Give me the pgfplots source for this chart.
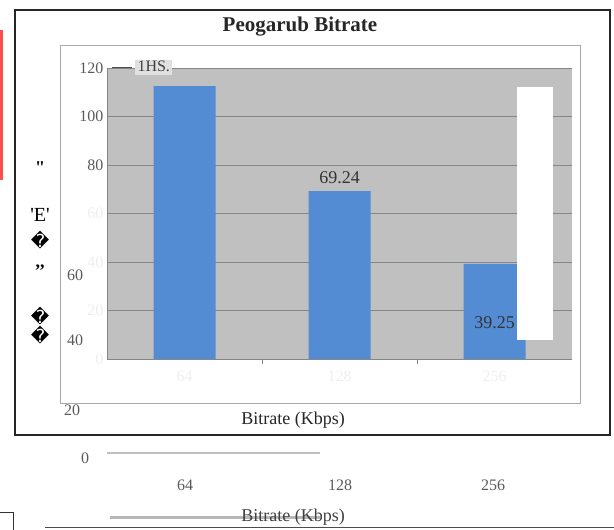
\documentclass[border=0pt]{standalone}
\usepackage{pgfplots}
\pgfplotsset{compat=1.18}
\usepackage{fontspec}
\setmainfont{Liberation Serif}
\newfontfamily\dv{DejaVu Sans}
\definecolor{bgray}{RGB}{192,192,192}
\definecolor{gridc}{RGB}{134,134,134}
\definecolor{barc}{RGB}{84,140,212}
\definecolor{tickc}{RGB}{90,90,90}
\definecolor{faint}{RGB}{238,238,238}
\definecolor{borderc}{RGB}{170,170,170}
\begin{document}
\begin{tikzpicture}
\path[use as bounding box] (0pt,0pt) rectangle (614pt,530pt);
% left red strip
\fill[red!70] (0pt,350pt) rectangle (3pt,500pt);
% outer frame
\draw[line width=1.2pt, black!85] (15pt,95pt) rectangle (610pt,520pt);
% plot area border
\draw[line width=0.8pt, borderc] (60pt,127pt) rectangle (580pt,485pt);
\begin{axis}[
  at={(107pt,171pt)}, anchor=south west,
  scale only axis, width=465pt, height=291pt,
  xmin=-0.5, xmax=2.5, ymin=0, ymax=120,
  axis background/.style={fill=bgray},
  axis x line*=bottom, axis y line*=left,
  axis line style={gridc, line width=0.8pt},
  ytick={0,20,40,60,80,100,120},
  yticklabels={\textcolor{faint}{0},\textcolor{faint}{20},\textcolor{faint}{40},\textcolor{faint}{60},80,100,120},
  ymajorgrids, grid style={gridc, line width=0.9pt},
  major tick length=5pt,
  tick style={gridc},
  yticklabel style={font=\fontsize{16}{18}\selectfont, text=tickc},
  xticklabel style={font=\fontsize{16}{18}\selectfont, text=faint, yshift=-8pt},
  xtick={0.5,1.5}, xticklabels={},
  extra x ticks={0,1,2}, extra x tick labels={64,128,256},
  extra x tick style={major tick length=0pt, xticklabel style={text=faint}},
  ybar, bar width=62pt,
  clip=false,
]
\addplot[fill=barc, draw=none] coordinates {(0,112.5) (1,69.24) (2,39.25)};
\node[font=\fontsize{18}{20}\selectfont, text=black!80, anchor=south] at (axis cs:1,71) {69.24};
\node[font=\fontsize{18}{20}\selectfont, text=black!80] at (axis cs:2,15) {39.25};
\end{axis}
% white artifact rectangle
\fill[white] (517pt,190pt) rectangle (553pt,443pt);
% legend artifact
\fill[black!12] (135pt,455pt) rectangle (172pt,470pt);
\draw[black!70, line width=0.8pt] (112pt,463pt) -- (132pt,463pt);
\node[anchor=west, font=\fontsize{16}{18}\selectfont, text=black!75] at (134pt,464pt) {1HS.};
% title
\node[font=\fontsize{21}{23}\selectfont\bfseries, text=black!85] at (300pt,503pt) {Peogarub Bitrate};
% x label
\node[font=\fontsize{18}{20}\selectfont, text=black!85] at (293pt,110pt) {Bitrate (Kbps)};
% stray y labels
\node[font=\fontsize{16}{18}\selectfont, text=tickc] at (75pt,255pt) {60};
\node[font=\fontsize{16}{18}\selectfont, text=tickc] at (75pt,190pt) {40};
\node[font=\fontsize{16}{18}\selectfont, text=tickc] at (72pt,120pt) {20};
\node[font=\fontsize{20}{22}\selectfont] at (40pt,315pt) {\textquotesingle E\textquotesingle};
\node[font=\fontsize{18}{20}\selectfont\bfseries] at (40pt,262pt) {{,}{,}};
\node[font=\fontsize{18}{20}\selectfont\bfseries] at (40pt,362pt) {\textquotedbl};
\node[font=\fontsize{18}{20}\selectfont\dv] at (40pt,290pt) {\symbol{"FFFD}};
\node[font=\fontsize{18}{20}\selectfont\dv] at (40pt,214pt) {\symbol{"FFFD}};
\node[font=\fontsize{18}{20}\selectfont\dv] at (40pt,195pt) {\symbol{"FFFD}};
% below frame
\node[font=\fontsize{16}{18}\selectfont, text=tickc] at (85pt,72pt) {0};
\draw[black!25, line width=2.5pt] (107pt,77pt) -- (320pt,77pt);
\node[font=\fontsize{16}{18}\selectfont, text=tickc] at (185pt,45pt) {64};
\node[font=\fontsize{16}{18}\selectfont, text=tickc] at (340pt,45pt) {128};
\node[font=\fontsize{16}{18}\selectfont, text=tickc] at (493pt,45pt) {256};
\draw[black!28, line width=3pt] (110pt,12pt) -- (320pt,12pt);
\node[font=\fontsize{18}{20}\selectfont, text=black!75] at (293pt,13pt) {Bitrate (Kbps)};
\draw[black!70, line width=0.8pt] (45pt,3pt) -- (614pt,3pt);
\draw[black!80, line width=0.8pt] (0pt,18pt) -- (13pt,18pt) -- (13pt,0pt);
\end{tikzpicture}
\end{document}
